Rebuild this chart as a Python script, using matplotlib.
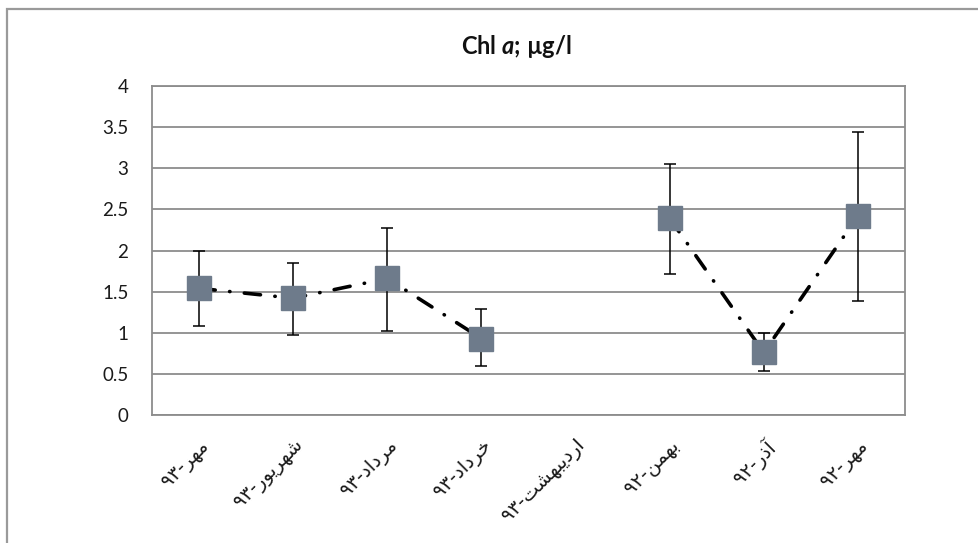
import numpy as np
import matplotlib
matplotlib.use("Agg")
import matplotlib.pyplot as plt
from matplotlib.patches import Rectangle

# ---------------- data ----------------
months = ["مهر", "شهریور", "مرداد", "خرداد", "اردیبهشت", "بهمن", "آذر", "مهر"]
years = ["۹۳", "۹۳", "۹۳", "۹۳", "۹۳", "۹۲", "۹۲", "۹۲"]
means = [1.54, 1.42, 1.66, 0.93, np.nan, 2.39, 0.76, 2.42]
err_low = [0.46, 0.45, 0.64, 0.34, np.nan, 0.67, 0.23, 1.04]
err_high = [0.45, 0.43, 0.61, 0.36, np.nan, 0.66, 0.24, 1.02]
yticks = [0, 0.5, 1, 1.5, 2, 2.5, 3, 3.5, 4]
title = r"Chl $\mathit{a}$; µg/l"

# ---------------- minimal Arabic shaping (visual order) ----------------
FORMS = {  # isolated, final, initial, medial
    "ا": ("\uFE8D", "\uFE8E", None, None),
    "آ": ("\uFE81", "\uFE82", None, None),
    "ب": ("\uFE8F", "\uFE90", "\uFE91", "\uFE92"),
    "ت": ("\uFE95", "\uFE96", "\uFE97", "\uFE98"),
    "خ": ("\uFEA5", "\uFEA6", "\uFEA7", "\uFEA8"),
    "د": ("\uFEA9", "\uFEAA", None, None),
    "ذ": ("\uFEAB", "\uFEAC", None, None),
    "ر": ("\uFEAD", "\uFEAE", None, None),
    "ش": ("\uFEB5", "\uFEB6", "\uFEB7", "\uFEB8"),
    "م": ("\uFEE1", "\uFEE2", "\uFEE3", "\uFEE4"),
    "ن": ("\uFEE5", "\uFEE6", "\uFEE7", "\uFEE8"),
    "ه": ("\uFEE9", "\uFEEA", "\uFEEB", "\uFEEC"),
    "و": ("\uFEED", "\uFEEE", None, None),
    "ی": ("\uFBFC", "\uFBFD", "\uFEF3", "\uFEF4"),
}


def dual(c):
    return c in FORMS and FORMS[c][2] is not None


def shape(word):
    out = []
    n = len(word)
    for i, c in enumerate(word):
        prev_c = word[i - 1] if i > 0 else None
        next_c = word[i + 1] if i < n - 1 else None
        cp = prev_c is not None and dual(prev_c)
        cn = dual(c) and next_c is not None and next_c in FORMS
        f = FORMS[c]
        if cp and cn:
            g = f[3]
        elif cp:
            g = f[1]
        elif cn:
            g = f[2]
        else:
            g = f[0]
        out.append(g)
    return "".join(reversed(out))


labels = [y + "-" + shape(m) for m, y in zip(months, years)]

# ---------------- figure ----------------
plt.rcParams["font.family"] = ["Lato", "DejaVu Sans"]
plt.rcParams["mathtext.fontset"] = "custom"
plt.rcParams["mathtext.it"] = "Lato:italic:bold"
plt.rcParams["mathtext.rm"] = "Lato:bold"

W, H = 979, 543
fig = plt.figure(figsize=(W / 100, H / 100), dpi=100)

# outer chart border (cropped at right and bottom)
fig.patches.append(Rectangle((7 / W, -0.1), 1.2, (H - 9) / H + 0.1,
                             transform=fig.transFigure, fill=False,
                             edgecolor="#9a9a9a", linewidth=1.6, zorder=0))

ax = fig.add_axes([152 / W, 1 - 415 / H, (905 - 152) / W, (415 - 86) / H])

x = np.arange(len(months))
gray = "#8c8c8c"
for s in ax.spines.values():
    s.set_color(gray)
    s.set_linewidth(1.3)

ax.set_ylim(0, 4)
ax.set_xlim(-0.5, len(months) - 0.5)
ax.set_yticks(yticks)
ax.set_yticklabels([f"{v:g}" for v in yticks], fontsize=13.5)
ax.yaxis.grid(True, color=gray, linewidth=1.3)
ax.set_axisbelow(True)
ax.tick_params(axis="y", length=0, pad=17, labelcolor="#1a1a1a")
ax.tick_params(axis="x", length=0, pad=15)

ax.set_xticks(x)
ax.set_xticklabels(labels, rotation=45, ha="right", rotation_mode="anchor",
                   fontsize=14, family=["DejaVu Sans"], color="#1a1a1a")

# dash-dot connecting line
ax.plot(x, means, color="black", linewidth=2.6,
        dashes=(4.5, 4.0, 0.1, 4.0), dash_capstyle="round", zorder=2)

ax.errorbar(x, means, yerr=[err_low, err_high], fmt="none", ecolor="black",
            elinewidth=1.1, capsize=4.3, capthick=1.1, zorder=3)

ax.plot(x, means, linestyle="none", marker="s", markersize=17,
        markerfacecolor="#6e7b8b", markeredgecolor="#6e7b8b", zorder=4)

fig.text(516 / W, 1 - 47 / H, title, ha="center", va="center",
         fontsize=17, fontweight="bold", color="#111111")

fig.savefig("out.png", dpi=100)
